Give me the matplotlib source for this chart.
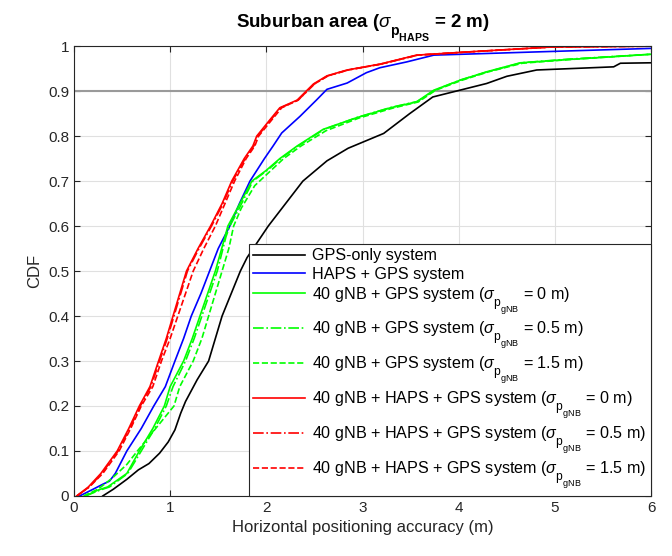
import matplotlib
matplotlib.use("Agg")
import matplotlib.pyplot as plt
import matplotlib._mathtext as mathtext

# CDF curves (x = accuracy in m, y = CDF)
gps_x = [0.30, 0.41, 0.55, 0.67, 0.78, 0.89, 0.98, 1.05, 1.11, 1.16, 1.28, 1.40, 1.54, 1.73, 1.80, 2.02, 2.20, 2.38, 2.63, 2.85, 3.22, 3.49, 3.73, 4.01, 4.29, 4.50, 4.81, 5.61, 5.68, 6.00]
gps_y = [0.0, 0.015, 0.037, 0.058, 0.072, 0.095, 0.12, 0.147, 0.184, 0.21, 0.258, 0.30, 0.40, 0.50, 0.53, 0.60, 0.65, 0.70, 0.745, 0.773, 0.806, 0.85, 0.887, 0.902, 0.917, 0.933, 0.947, 0.954, 0.962, 0.963]

haps_x = [0.06, 0.20, 0.30, 0.37, 0.43, 0.55, 0.70, 0.83, 0.95, 1.05, 1.14, 1.22, 1.32, 1.41, 1.50, 1.62, 1.72, 1.83, 1.98, 2.07, 2.16, 2.35, 2.52, 2.63, 2.84, 3.04, 3.18, 3.46, 3.74, 4.78, 6.00]
haps_y = [0.0, 0.015, 0.026, 0.033, 0.05, 0.10, 0.15, 0.20, 0.243, 0.30, 0.35, 0.40, 0.45, 0.50, 0.55, 0.60, 0.65, 0.70, 0.75, 0.778, 0.807, 0.844, 0.88, 0.904, 0.918, 0.941, 0.952, 0.965, 0.98, 0.987, 0.995]

gnb0_x = [0.12, 0.25, 0.35, 0.55, 0.68, 0.82, 0.94, 1.00, 1.14, 1.23, 1.31, 1.39, 1.47, 1.57, 1.60, 1.69, 1.85, 2.00, 2.14, 2.32, 2.59, 2.94, 3.29, 3.56, 3.74, 4.01, 4.29, 4.64, 5.12, 6.00]
gnb0_y = [0.0, 0.013, 0.02, 0.05, 0.10, 0.15, 0.20, 0.243, 0.30, 0.35, 0.40, 0.45, 0.50, 0.576, 0.60, 0.636, 0.70, 0.724, 0.75, 0.778, 0.815, 0.841, 0.863, 0.876, 0.902, 0.924, 0.943, 0.963, 0.97, 0.982]

gnb05_x = [0.12, 0.27, 0.37, 0.56, 0.70, 0.84, 0.96, 1.03, 1.16, 1.25, 1.33, 1.41, 1.49, 1.58, 1.62, 1.71, 1.86, 2.01, 2.15, 2.33, 2.60, 2.95, 3.30, 3.57, 3.75, 4.02, 4.30, 4.65, 5.13, 6.00]
gnb05_y = [0.0, 0.013, 0.02, 0.05, 0.10, 0.15, 0.20, 0.243, 0.30, 0.35, 0.40, 0.45, 0.50, 0.576, 0.60, 0.636, 0.70, 0.724, 0.75, 0.778, 0.815, 0.842, 0.864, 0.877, 0.902, 0.925, 0.943, 0.963, 0.971, 0.982]

gnb15_x = [0.10, 0.25, 0.40, 0.55, 0.66, 0.85, 1.04, 1.10, 1.24, 1.33, 1.40, 1.47, 1.54, 1.61, 1.66, 1.74, 1.88, 2.03, 2.18, 2.36, 2.62, 2.96, 3.31, 3.58, 3.76, 4.03, 4.31, 4.66, 5.14, 6.00]
gnb15_y = [0.0, 0.015, 0.04, 0.07, 0.10, 0.15, 0.20, 0.243, 0.30, 0.35, 0.40, 0.45, 0.50, 0.55, 0.60, 0.64, 0.69, 0.72, 0.75, 0.778, 0.812, 0.84, 0.862, 0.876, 0.902, 0.924, 0.943, 0.962, 0.97, 0.982]

all0_x = [0.03, 0.15, 0.28, 0.45, 0.57, 0.68, 0.79, 0.88, 0.96, 1.03, 1.10, 1.17, 1.29, 1.42, 1.54, 1.64, 1.77, 1.86, 1.90, 2.04, 2.14, 2.32, 2.49, 2.63, 2.84, 3.18, 3.56, 4.08, 4.95, 6.00]
all0_y = [0.0, 0.02, 0.05, 0.10, 0.15, 0.20, 0.243, 0.30, 0.35, 0.40, 0.45, 0.50, 0.55, 0.60, 0.65, 0.70, 0.75, 0.778, 0.80, 0.837, 0.863, 0.88, 0.916, 0.934, 0.947, 0.96, 0.98, 0.987, 0.998, 1.0]

all05_x = [0.03, 0.16, 0.29, 0.46, 0.58, 0.69, 0.80, 0.89, 0.97, 1.04, 1.11, 1.18, 1.30, 1.43, 1.55, 1.65, 1.78, 1.87, 1.91, 2.05, 2.15, 2.33, 2.50, 2.64, 2.85, 3.19, 3.57, 4.09, 4.96, 6.00]
all05_y = all0_y

all15_x = [0.03, 0.16, 0.30, 0.47, 0.59, 0.70, 0.82, 0.91, 1.00, 1.08, 1.16, 1.24, 1.35, 1.47, 1.57, 1.67, 1.79, 1.88, 1.92, 2.06, 2.16, 2.33, 2.50, 2.64, 2.85, 3.19, 3.57, 4.09, 4.96, 6.00]
all15_y = all0_y

sig = r"($\sigma_{\mathrm{p}_{\mathrm{gNB}}}$"
labels = [
    "GPS-only system",
    "HAPS + GPS system",
    "40 gNB + GPS system " + sig + " = 0 m)",
    "40 gNB + GPS system " + sig + " = 0.5 m)",
    "40 gNB + GPS system " + sig + " = 1.5 m)",
    "40 gNB + HAPS + GPS system " + sig + " = 0 m)",
    "40 gNB + HAPS + GPS system " + sig + " = 0.5 m)",
    "40 gNB + HAPS + GPS system " + sig + " = 1.5 m)",
]

plt.rcParams["font.family"] = ["Liberation Sans", "DejaVu Sans"]
plt.rcParams["mathtext.fontset"] = "custom"
plt.rcParams["mathtext.rm"] = "Liberation Sans"
plt.rcParams["mathtext.it"] = "Liberation Sans:italic"
plt.rcParams["mathtext.bf"] = "Liberation Sans:bold"
# MATLAB's tex subscripts are bigger and sit lower than mathtext's defaults
mathtext.SHRINK_FACTOR = 0.75
mathtext.FontConstantsBase.subdrop = 0.85
mathtext.FontConstantsBase.sub1 = 0.85

fig = plt.figure(figsize=(6.72, 5.56), dpi=100)
ax = fig.add_axes([0.110, 0.108, 0.859, 0.809])

ax.axhline(0.9, color="#9a9a9a", linewidth=1.5, zorder=1)

lw = 1.2
ax.plot(gps_x, gps_y, "-", color="k", lw=lw, label=labels[0])
ax.plot(haps_x, haps_y, "-", color="b", lw=lw, label=labels[1])
ax.plot(gnb0_x, gnb0_y, "-", color="#00ff00", lw=lw, label=labels[2])
ax.plot(gnb05_x, gnb05_y, "-.", color="#00ff00", lw=lw, label=labels[3])
ax.plot(gnb15_x, gnb15_y, "--", color="#00ff00", lw=lw, label=labels[4])
ax.plot(all0_x, all0_y, "-", color="r", lw=lw, label=labels[5])
ax.plot(all05_x, all05_y, "-.", color="r", lw=lw, label=labels[6])
ax.plot(all15_x, all15_y, "--", color="r", lw=lw, label=labels[7])

ax.set_xlim(0, 6)
ax.set_ylim(0, 1)
ax.set_xticks(range(7))
ax.set_yticks([i / 10 for i in range(11)])
ax.set_yticklabels(["0", "0.1", "0.2", "0.3", "0.4", "0.5", "0.6", "0.7", "0.8", "0.9", "1"])
ax.grid(True, color="#e0e0e0", linewidth=0.8)
ax.set_axisbelow(True)
ax.tick_params(direction="in", length=4, labelsize=11, colors="#262626",
               top=True, right=True)
for s in ax.spines.values():
    s.set_color("#262626")
    s.set_linewidth(0.8)

ax.set_xlabel("Horizontal positioning accuracy (m)", fontsize=12, color="#262626")
ax.set_ylabel("CDF", fontsize=12, color="#262626")
ax.set_title(r"Suburban area ($\sigma_{\mathbf{p}_{\mathbf{HAPS}}}$ = 2 m)",
             fontsize=13.5, fontweight="bold", pad=14)

leg = ax.legend(loc="lower right", borderaxespad=0, fontsize=11.6, fancybox=False,
                framealpha=1, edgecolor="#262626", handlelength=3.2,
                handletextpad=0.45, labelspacing=0.2, borderpad=0.3)
leg.get_frame().set_linewidth(0.8)

fig.savefig("out.png", dpi=100)
